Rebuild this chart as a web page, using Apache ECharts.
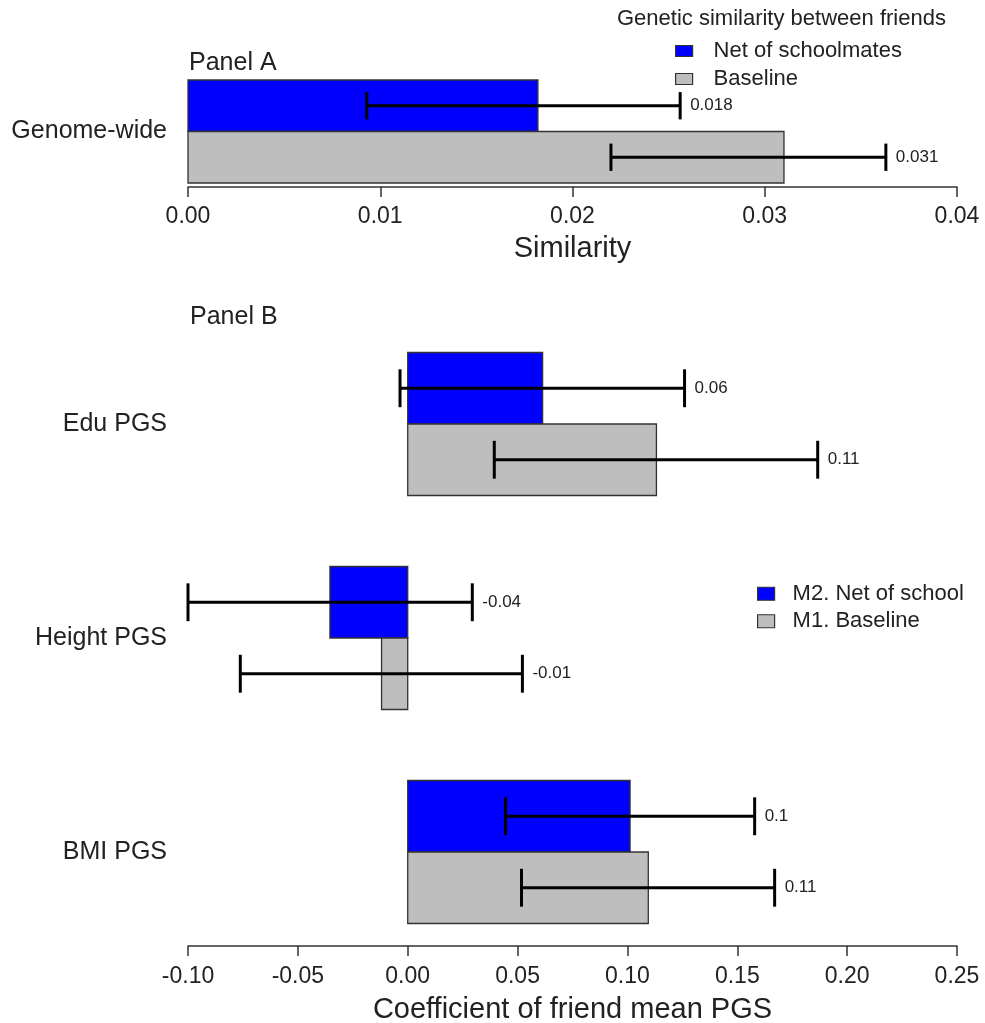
<!DOCTYPE html>
<html>
<head>
<meta charset="utf-8">
<script src="https://cdn.jsdelivr.net/npm/echarts@6/dist/echarts.min.js"></script>
<style>
html,body{margin:0;padding:0;background:#fff;}
#chart{width:985px;height:1023px;}
</style>
</head>
<body>
<div id="chart"></div>
<script>
// ---------- Data ----------
const catsA = ['Genome-wide'];
const simNet = [0.0182];
const simNetLo = [0.0093];
const simNetHi = [0.0256];
const simBase = [0.0310];
const simBaseLo = [0.0220];
const simBaseHi = [0.0363];

const catsB = ['Edu PGS', 'Height PGS', 'BMI PGS'];
const netB = [0.0614, -0.0354, 0.1012];
const netBLo = [-0.0035, -0.1000, 0.0445];
const netBHi = [0.1260, 0.0294, 0.1579];
const baseB = [0.1132, -0.0119, 0.1095];
const baseBLo = [0.0394, -0.0762, 0.0518];
const baseBHi = [0.1866, 0.0522, 0.1670];

const ticksA = [0, 0.01, 0.02, 0.03, 0.04];
const ticksB = [-0.10, -0.05, 0.00, 0.05, 0.10, 0.15, 0.20, 0.25];

const FONT = "'Liberation Sans', Arial, Helvetica, sans-serif";
const TXT = '#222';
const BLUE = '#0000ff';
const GRAY = '#bebebe';
const EDGE = '#333';

function fmtA(v) { return v.toFixed(3); }
function fmtB(v) { return String(Number(v.toFixed(2))); }

function makeRender(side, frac, fmt) {
  return function (params, api) {
    const cat = api.value(0), v = api.value(1), lo = api.value(2), hi = api.value(3);
    const c0 = api.coord([0, cat]);
    const c1 = api.coord([v, cat]);
    const band = api.size([0, 1])[1];
    const h = band * frac;
    const yTop = side < 0 ? c0[1] - h : c0[1];
    const yc = yTop + h / 2;
    const pl = api.coord([lo, cat])[0];
    const ph = api.coord([hi, cat])[0];
    const cap = h * 0.265;
    const col = api.visual('color');
    return {
      type: 'group',
      children: [
        { type: 'rect', shape: { x: Math.min(c0[0], c1[0]), y: yTop, width: Math.abs(c1[0] - c0[0]), height: h },
          style: { fill: col, stroke: EDGE, lineWidth: 1.3 } },
        { type: 'line', shape: { x1: pl, y1: yc, x2: ph, y2: yc }, style: { stroke: '#000', lineWidth: 3 } },
        { type: 'line', shape: { x1: pl, y1: yc - cap, x2: pl, y2: yc + cap }, style: { stroke: '#000', lineWidth: 3 } },
        { type: 'line', shape: { x1: ph, y1: yc - cap, x2: ph, y2: yc + cap }, style: { stroke: '#000', lineWidth: 3 } },
        { type: 'text', style: { x: ph + 10, y: yc, text: fmt(v), fill: TXT, fontSize: 17, fontFamily: FONT,
          align: 'left', verticalAlign: 'middle' } }
      ]
    };
  };
}

function rows(vals, lo, hi) {
  return vals.map((v, i) => [i, v, lo[i], hi[i]]);
}

const axisLineStyle = { color: EDGE, width: 1.5 };

const option = {
  animation: false,
  backgroundColor: '#fff',
  textStyle: { fontFamily: FONT },
  title: [
    { text: 'Panel A', left: 189, top: 51, padding: 0, textStyle: { fontSize: 25, fontWeight: 'normal', color: TXT, fontFamily: FONT } },
    { text: 'Panel B', left: 190, top: 305, padding: 0, textStyle: { fontSize: 25, fontWeight: 'normal', color: TXT, fontFamily: FONT } },
    { text: 'Genetic similarity between friends', left: 617, top: 8, padding: 0, textStyle: { fontSize: 22, fontWeight: 'normal', color: TXT, fontFamily: FONT } }
  ],
  legend: [
    { data: ['Net of schoolmates', 'Baseline'], orient: 'vertical', left: 675, top: 37, padding: 0, itemGap: 0,
      icon: 'rect', itemWidth: 17, itemHeight: 11,
      itemStyle: { borderColor: EDGE, borderWidth: 1.2 },
      textStyle: { fontSize: 22, color: TXT, fontFamily: FONT, lineHeight: 28, padding: [0, 0, 0, 16] } },
    { data: ['M2. Net of school', 'M1. Baseline'], orient: 'vertical', left: 757, top: 580, padding: 0, itemGap: 0,
      icon: 'rect', itemWidth: 17, itemHeight: 13,
      itemStyle: { borderColor: EDGE, borderWidth: 1.2 },
      textStyle: { fontSize: 22, color: TXT, fontFamily: FONT, lineHeight: 27.5, padding: [0, 0, 0, 13] } }
  ],
  grid: [
    { left: 188, right: 28, top: 80, height: 103, outerBoundsMode: 'none', containLabel: false },
    { left: 188, right: 28, top: 317, height: 642, outerBoundsMode: 'none', containLabel: false }
  ],
  xAxis: [
    { gridIndex: 0, type: 'value', min: ticksA[0], max: ticksA[ticksA.length - 1], interval: 0.01, offset: 4,
      name: 'Similarity', nameLocation: 'middle', nameGap: 47,
      nameTextStyle: { fontSize: 29, color: TXT, fontFamily: FONT },
      axisLine: { show: true, lineStyle: axisLineStyle },
      axisTick: { show: true, length: 10, inside: false, lineStyle: axisLineStyle },
      axisLabel: { margin: 18, fontSize: 23, color: TXT, fontFamily: FONT, formatter: v => v.toFixed(2) },
      splitLine: { show: false } },
    { gridIndex: 1, type: 'value', min: ticksB[0], max: ticksB[ticksB.length - 1], interval: 0.05, offset: -13,
      name: 'Coefficient of friend mean PGS', nameLocation: 'middle', nameGap: 49,
      nameTextStyle: { fontSize: 29, color: TXT, fontFamily: FONT },
      axisLine: { show: true, lineStyle: axisLineStyle },
      axisTick: { show: true, length: 10, inside: false, lineStyle: axisLineStyle },
      axisLabel: { margin: 19, fontSize: 23, color: TXT, fontFamily: FONT, formatter: v => v.toFixed(2) },
      splitLine: { show: false } }
  ],
  yAxis: [
    { gridIndex: 0, type: 'category', data: catsA, inverse: true,
      axisLine: { show: false }, axisTick: { show: false },
      axisLabel: { margin: 21, fontSize: 25, color: TXT, fontFamily: FONT } },
    { gridIndex: 1, type: 'category', data: catsB, inverse: true,
      axisLine: { show: false }, axisTick: { show: false },
      axisLabel: { margin: 21, fontSize: 25, color: TXT, fontFamily: FONT } }
  ],
  series: [
    { name: 'Net of schoolmates', type: 'custom', xAxisIndex: 0, yAxisIndex: 0,
      itemStyle: { color: BLUE }, encode: { x: [1, 2, 3], y: 0 }, clip: false,
      renderItem: makeRender(-1, 0.5, fmtA), data: rows(simNet, simNetLo, simNetHi) },
    { name: 'Baseline', type: 'custom', xAxisIndex: 0, yAxisIndex: 0,
      itemStyle: { color: GRAY }, encode: { x: [1, 2, 3], y: 0 }, clip: false,
      renderItem: makeRender(1, 0.5, fmtA), data: rows(simBase, simBaseLo, simBaseHi) },
    { name: 'M2. Net of school', type: 'custom', xAxisIndex: 1, yAxisIndex: 1,
      itemStyle: { color: BLUE }, encode: { x: [1, 2, 3], y: 0 }, clip: false,
      renderItem: makeRender(-1, 0.334, fmtB), data: rows(netB, netBLo, netBHi) },
    { name: 'M1. Baseline', type: 'custom', xAxisIndex: 1, yAxisIndex: 1,
      itemStyle: { color: GRAY }, encode: { x: [1, 2, 3], y: 0 }, clip: false,
      renderItem: makeRender(1, 0.334, fmtB), data: rows(baseB, baseBLo, baseBHi) }
  ]
};

const chart = echarts.init(document.getElementById('chart'), null, { renderer: 'canvas' });
chart.setOption(option);
</script>
</body>
</html>
